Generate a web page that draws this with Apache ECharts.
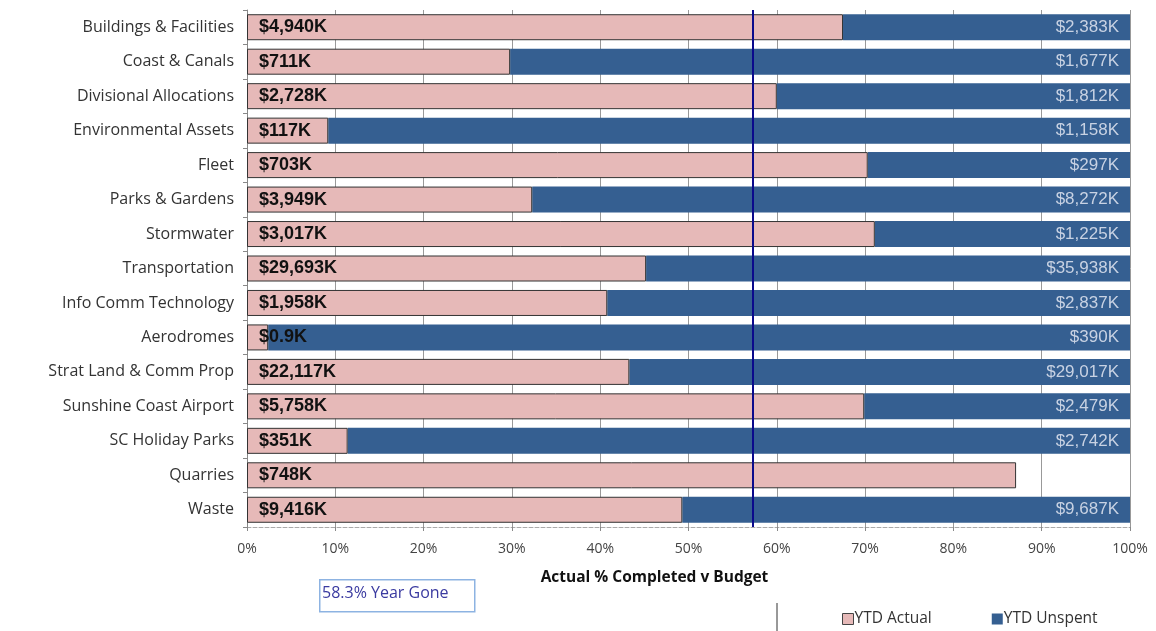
<!DOCTYPE html>
<html>
<head>
<meta charset="utf-8">
<script src="https://cdn.jsdelivr.net/npm/echarts@6/dist/echarts.min.js"></script>
<style>
  html, body { margin: 0; padding: 0; background: #fff; }
  #chart { width: 1156px; height: 631px; }
</style>
</head>
<body>
<div id="chart"></div>
<script>
var categories = ['Buildings & Facilities', 'Coast & Canals', 'Divisional Allocations', 'Environmental Assets',
  'Fleet', 'Parks & Gardens', 'Stormwater', 'Transportation', 'Info Comm Technology', 'Aerodromes',
  'Strat Land & Comm Prop', 'Sunshine Coast Airport', 'SC Holiday Parks', 'Quarries', 'Waste'];
// percent of budget
var actualPct = [67.5, 29.8, 60.0, 9.2, 70.3, 32.3, 71.1, 45.2, 40.8, 2.4, 43.3, 69.9, 11.4, 87.1, 49.3];
var unspentPct = [32.5, 70.2, 40.0, 90.8, 29.7, 67.7, 28.9, 54.8, 59.2, 97.6, 56.7, 30.1, 88.6, null, 50.7];
// dollar labels
var actualLabels = ['$4,940K', '$711K', '$2,728K', '$117K', '$703K', '$3,949K', '$3,017K', '$29,693K',
  '$1,958K', '$0.9K', '$22,117K', '$5,758K', '$351K', '$748K', '$9,416K'];
var unspentLabels = ['$2,383K', '$1,677K', '$1,812K', '$1,158K', '$297K', '$8,272K', '$1,225K', '$35,938K',
  '$2,837K', '$390K', '$29,017K', '$2,479K', '$2,742K', '', '$9,687K'];
var yearGone = 57.3;

var chart = echarts.init(document.getElementById('chart'));

var option = {
  animation: false,
  grid: { left: 247, right: 26, top: 10, bottom: 104 },
  legend: {
    left: 837, top: 606,
    itemWidth: 11, itemHeight: 11, itemGap: 60,
    icon: 'rect',
    textStyle: { fontFamily: 'Open Sans', fontSize: 15.5, color: '#333', padding: [0, 0, 0, -4] },
    data: [
      { name: 'YTD Actual', itemStyle: { borderColor: '#444', borderWidth: 1 } },
      { name: 'YTD Unspent' }
    ]
  },
  xAxis: {
    type: 'value', min: 0, max: 100, interval: 10,
    name: 'Actual % Completed v Budget',
    nameLocation: 'middle', nameGap: 43,
    nameTextStyle: { fontFamily: 'Open Sans', fontWeight: 'bold', fontSize: 15.5, color: '#111',
      padding: [0, 68, 0, 0] },
    axisLine: { show: true, lineStyle: { color: '#aaa', type: 'dashed' } },
    axisTick: { show: true, length: 4, lineStyle: { color: '#888' } },
    axisLabel: { margin: 15, fontFamily: 'Open Sans', fontSize: 14, color: '#444',
      formatter: function (v) { return v + '%'; } },
    splitLine: { show: true, lineStyle: { color: '#999', width: 1 } }
  },
  yAxis: {
    type: 'category', inverse: true, data: categories,
    axisLine: { show: true, lineStyle: { color: '#888' } },
    axisTick: { show: true, length: 4, lineStyle: { color: '#888' } },
    axisLabel: { margin: 13, fontFamily: 'Open Sans', fontSize: 16, color: '#333' }
  },
  series: [
    {
      name: 'YTD Actual', type: 'bar', stack: 'a', z: 3,
      barWidth: 26,
      data: actualPct,
      itemStyle: { color: '#E6B9B8', borderColor: '#333', borderWidth: 1 },
      label: {
        show: true, position: 'insideLeft', distance: 12,
        fontFamily: 'Liberation Sans', fontWeight: 'bold', fontSize: 18, color: '#111',
        formatter: function (p) { return actualLabels[p.dataIndex]; }
      },
      markLine: {
        silent: true, symbol: 'none',
        label: { show: false },
        lineStyle: { color: '#0A0A8C', width: 2, type: 'solid' },
        data: [{ xAxis: yearGone }]
      }
    },
    {
      name: 'YTD Unspent', type: 'bar', stack: 'a', z: 2,
      barWidth: 26,
      data: unspentPct,
      itemStyle: { color: '#355F91' },
      label: {
        show: true, position: 'insideRight', distance: 11,
        fontFamily: 'Liberation Sans', fontSize: 17, color: '#C8D2E3',
        formatter: function (p) { return unspentLabels[p.dataIndex]; }
      }
    }
  ],
  graphic: [
    {
      type: 'rect', left: 319, top: 579,
      shape: { width: 155, height: 32 },
      style: { fill: '#fff', stroke: '#8DB3E2', lineWidth: 1.5 }
    },
    {
      type: 'text', left: 322, top: 585,
      style: { text: '58.3% Year Gone', fontFamily: 'Open Sans', fontSize: 16, fill: '#3A3AA0' }
    },
    {
      type: 'line',
      shape: { x1: 777, y1: 603, x2: 777, y2: 631 },
      style: { stroke: '#333', lineWidth: 1 }
    }
  ]
};

chart.setOption(option);
</script>
</body>
</html>
